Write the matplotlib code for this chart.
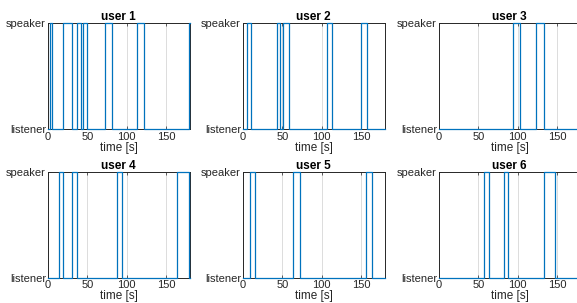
#speaker / listener state of each user over time
import matplotlib.pyplot as plt

# times [s] at which each user switches state (starting as listener at t=0)
user1_switch = [2.1, 5.1, 19.2, 31.1, 37.1, 41.8, 44.8, 49.9, 72.9, 81.8, 113.0, 122.3, 179.0]
user2_switch = [5.2, 10.0, 43.2, 47.6, 51.0, 58.8, 107.2, 113.3, 150.5, 158.2]
user3_switch = [93.8, 102.8, 122.8, 133.0]
user4_switch = [14.1, 19.6, 31.1, 36.7, 87.4, 93.8, 164.1, 179.6]
user5_switch = [9.4, 14.7, 63.8, 72.3, 156.6, 164.3]
user6_switch = [57.6, 63.6, 83.1, 88.1, 133.9, 147.9]

switches = [user1_switch, user2_switch, user3_switch,
            user4_switch, user5_switch, user6_switch]
titles = ['user 1', 'user 2', 'user 3', 'user 4', 'user 5', 'user 6']
t_end = 180
xticks = [0, 50, 100, 150]
ylabels = ['listener', 'speaker']

plt.rcParams['font.family'] = ['Liberation Sans', 'DejaVu Sans']
fig = plt.figure(figsize=(5.77, 3.03), dpi=100)

W, H = 577.0, 303.0
lefts = [48, 243, 439]
tops = [23, 171.5]
w_px, h_px = 141.5, 106

dark = '#262626'
for k in range(6):
    r, c = divmod(k, 3)
    ax = fig.add_axes([lefts[c] / W, 1 - (tops[r] + h_px) / H, w_px / W, h_px / H])

    # build the step signal
    t = [0]
    s = [0]
    state = 0
    for ts in switches[k]:
        state = 1 - state
        t.append(ts)
        s.append(state)
    t.append(t_end)
    s.append(state)
    ax.plot(t, s, drawstyle='steps-post', color='#0072BD', linewidth=0.9,
            zorder=3, clip_on=False)

    ax.set_xlim(0, t_end)
    ax.set_ylim(0, 1)
    ax.set_xticks(xticks)
    ax.set_yticks([0, 1])
    ax.set_yticklabels(ylabels)
    ax.tick_params(direction='in', length=2, width=0.5, labelsize=8,
                   colors=dark, pad=1.5, top=True, right=True)
    ax.tick_params(axis='x', pad=2)
    ax.xaxis.grid(True, color='#dcdcdc', linewidth=0.7)
    ax.set_axisbelow(True)
    for sp in ax.spines.values():
        sp.set_color(dark)
        sp.set_linewidth(0.7)
    ax.set_title(titles[k], fontsize=8.5, fontweight='bold', pad=2, color='black')
    ax.set_xlabel('time [s]', fontsize=8.5, color=dark, labelpad=0)

plt.savefig('out.png', dpi=100)
